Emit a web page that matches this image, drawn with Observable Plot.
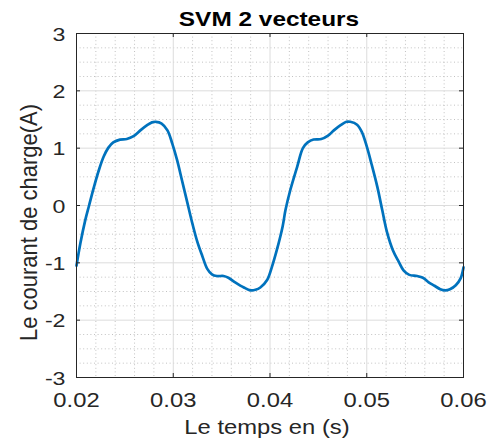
<!DOCTYPE html>
<html><head><meta charset="utf-8">
<script src="https://cdn.jsdelivr.net/npm/d3@7"></script>
<script src="https://cdn.jsdelivr.net/npm/@observablehq/plot@0.6"></script>
<style>html,body{margin:0;padding:0;background:#fff}#chart svg{display:block}</style>
</head><body><div id="chart"></div>
<script>
// time (s) and load current (A)
const time = [
  0.0200,0.0204,0.0209,0.0213,0.0218,0.0223,0.0228,0.0233,0.0238,0.0245,0.0252,0.0259,0.0266,0.0273,0.0278,0.0282,
  0.0288,0.0294,0.0299,0.0304,0.0309,0.0314,0.0320,0.0325,0.0330,0.0335,0.0340,0.0345,0.0352,0.0357,0.0364,0.0373,
  0.0380,0.0385,0.0390,0.0397,0.0402,0.0407,0.0413,0.0416,0.0421,0.0428,0.0434,0.0439,0.0445,0.0453,0.0460,0.0466,
  0.0473,0.0479,0.0483,0.0490,0.0495,0.0500,0.0505,0.0511,0.0516,0.0521,0.0527,0.0533,0.0538,0.0544,0.0552,0.0558,
  0.0564,0.0570,0.0576,0.0581,0.0586,0.0592,0.0597,0.0600
];
const current = [
  -1.05,-0.66,-0.26,0.00,0.32,0.61,0.85,1.01,1.10,1.15,1.16,1.21,1.31,1.40,1.45,1.46,
  1.43,1.31,1.08,0.79,0.44,0.09,-0.33,-0.64,-0.88,-1.10,-1.20,-1.23,-1.23,-1.26,-1.34,-1.43,
  -1.48,-1.47,-1.43,-1.30,-1.07,-0.78,-0.37,-0.08,0.27,0.67,1.00,1.10,1.15,1.16,1.22,1.31,
  1.40,1.46,1.46,1.41,1.28,1.03,0.72,0.32,-0.08,-0.47,-0.78,-0.98,-1.13,-1.21,-1.23,-1.26,
  -1.34,-1.40,-1.46,-1.48,-1.46,-1.39,-1.27,-1.08
];
const xTicks = [0.02, 0.03, 0.04, 0.05, 0.06];
const xTickLabels = ["0.02", "0.03", "0.04", "0.05", "0.06"];
const yTicks = [-3, -2, -1, 0, 1, 2, 3];
const yTickLabels = ["-3", "-2", "-1", "0", "1", "2", "3"];
const xMinor = [0.022,0.024,0.026,0.028,0.032,0.034,0.036,0.038,0.042,0.044,0.046,0.048,0.052,0.054,0.056,0.058];
const yMinor = [-2.75,-2.5,-2.25,-1.75,-1.5,-1.25,-0.75,-0.5,-0.25,0.25,0.5,0.75,1.25,1.5,1.75,2.25,2.5,2.75];
const titleText = "SVM 2 vecteurs";
const xLabelText = "Le temps en (s)";
const yLabelText = "Le courant de charge(A)";

const data = time.map((t, k) => ({t, i: current[k]}));
const W = 494, H = 439, mL = 76, mR = 31, mT = 33, mB = 62;
const innerW = W - mL - mR, innerH = H - mT - mB;
const font = "'Liberation Sans', Arial, Helvetica, sans-serif";
const ink = "#262626";

const chart = Plot.plot({
  width: W, height: H,
  marginLeft: mL, marginRight: mR, marginTop: mT, marginBottom: mB,
  style: {fontFamily: font, background: "#fff", color: ink, overflow: "visible"},
  x: {type: "linear", domain: [0.02, 0.06], label: null},
  y: {type: "linear", domain: [-3, 3], label: null},
  marks: [
    Plot.ruleX(xMinor, {x: d => d, stroke: "#c2c2c2", strokeDasharray: "1,2.6"}),
    Plot.ruleY(yMinor, {y: d => d, stroke: "#c2c2c2", strokeDasharray: "1,2.6"}),
    Plot.ruleX(xTicks, {x: d => d, stroke: "#dcdcdc"}),
    Plot.ruleY(yTicks, {y: d => d, stroke: "#dcdcdc"}),
    Plot.line(data, {x: "t", y: "i", stroke: "#0072BD", strokeWidth: 2.7, curve: "catmull-rom"}),
    Plot.tickX(xTicks, {x: d => d, insetTop: innerH - 4, stroke: ink}),
    Plot.tickX(xTicks, {x: d => d, insetBottom: innerH - 4, stroke: ink}),
    Plot.tickY(yTicks, {y: d => d, insetRight: innerW - 4, stroke: ink}),
    Plot.tickY(yTicks, {y: d => d, insetLeft: innerW - 4, stroke: ink}),
    Plot.frame({stroke: ink, strokeWidth: 1}),
    Plot.axisX(xTicks, {tickSize: 0, tickPadding: 16, fontSize: 19.5, fill: ink, label: null,
      tickFormat: d => xTickLabels[xTicks.indexOf(d)]}),
    Plot.axisY(yTicks, {tickSize: 0, tickPadding: 11, fontSize: 19, fill: ink, label: null, dy: 1,
      tickFormat: d => yTickLabels[yTicks.indexOf(d)]}),
    Plot.text([titleText], {frameAnchor: "top", lineAnchor: "bottom", dy: -8, dx: -1,
      fontSize: 20, fontWeight: "bold", fill: "#000"}),
    Plot.text([xLabelText], {frameAnchor: "bottom", lineAnchor: "bottom", dy: 56, dx: -3,
      fontSize: 19.5, fill: ink}),
    Plot.text([yLabelText], {frameAnchor: "left", textAnchor: "middle", lineAnchor: "bottom",
      rotate: -90, dx: -40, dy: 17, fontSize: 22, fill: ink})
  ]
});
document.getElementById("chart").append(chart);

// the reference text is horizontally widened; reproduce that stretch around each text anchor
const svg = chart.tagName.toLowerCase() === "svg" ? chart : chart.querySelector("svg");
svg.querySelectorAll("text").forEach(t => {
  let tr = t.getAttribute("transform") || "";
  if (/rotate/.test(tr)) tr += " scale(1,1.08)";
  else tr += " scale(1.22,1)";
  t.setAttribute("transform", tr.trim());
});
</script>
</body></html>
